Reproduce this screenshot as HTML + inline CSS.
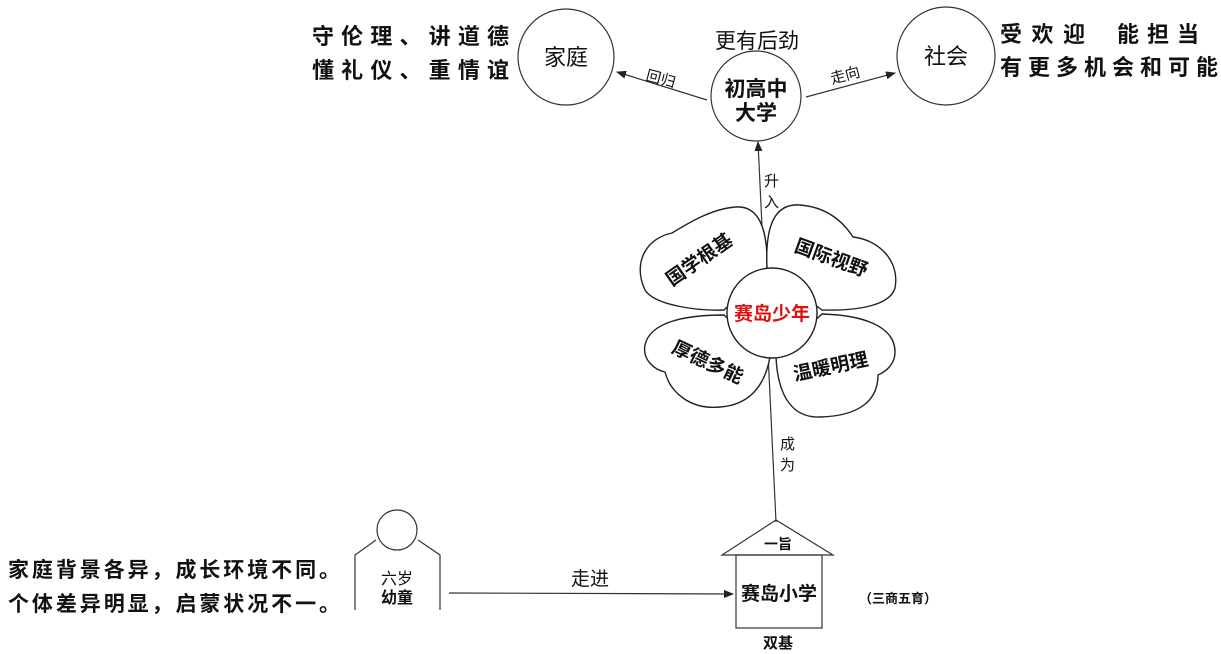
<!DOCTYPE html>
<html><head><meta charset="utf-8"><style>
html,body{margin:0;padding:0;background:#fff;width:1221px;height:654px;overflow:hidden}
svg{display:block}
text{font-family:"Liberation Sans","Noto Sans CJK SC",sans-serif;fill:#111}
.b{font-weight:bold}
</style></head><body>
<svg width="1221" height="654" viewBox="0 0 1221 654" xmlns="http://www.w3.org/2000/svg">
<defs>
<marker id="ar" markerWidth="10" markerHeight="8" refX="9" refY="4" orient="auto" markerUnits="userSpaceOnUse">
<path d="M0,0 L10,4 L0,8 Z" fill="#222"/></marker>
</defs>
<g stroke="#333" stroke-width="1.2" fill="none">
<circle cx="566" cy="57" r="48"/>
<circle cx="756" cy="96" r="45"/>
<circle cx="946" cy="56" r="49"/>
<line x1="707" y1="100" x2="617" y2="72" marker-end="url(#ar)"/>
<line x1="806" y1="97" x2="895" y2="73" marker-end="url(#ar)"/>
<line x1="776" y1="522" x2="758" y2="142" marker-end="url(#ar)"/>
<line x1="449" y1="593" x2="733" y2="594" marker-end="url(#ar)"/>
<circle cx="397" cy="530" r="20"/>
<polyline points="355,610 355,555 376,540"/>
<polyline points="440,610 440,555 418,540"/>
<polygon points="722,555 776,520 833,555"/>
<rect x="736" y="555" width="86" height="73"/>
</g>
<g fill="#fff" stroke="#222" stroke-width="1.4">
<path d="M767,268 C768,225 757,205 735,207 C712,209 690,222 672,233 C647,238 632,262 645,290 C655,306 700,311 724,310 Z"/>
<path d="M767,268 C765,225 775,203 800,205 C825,207 842,220 853,237 C880,240 900,262 895,288 C890,305 860,311 822,310 Z"/>
<path d="M724,315 C685,315 650,322 645,345 C642,360 655,370 665,372 C670,392 690,410 720,407 C750,405 765,385 770,357 Z"/>
<path d="M822,314 C860,315 895,325 895,352 C895,365 885,372 878,375 C878,400 860,416 820,417 C795,418 778,400 776,357 Z"/>
<circle cx="772" cy="313" r="45"/>
</g>
<text x="772" y="320" font-size="19" class="b" text-anchor="middle" style="fill:#d11">赛岛少年</text>
<text class="b" font-size="19" text-anchor="middle" transform="translate(703,265) rotate(-35)">国学根基</text>
<text class="b" font-size="19" text-anchor="middle" transform="translate(829,264) rotate(20)">国际视野</text>
<text class="b" font-size="19" text-anchor="middle" transform="translate(705,368) rotate(25)">厚德多能</text>
<text class="b" font-size="19" text-anchor="middle" transform="translate(832,373) rotate(-12)">温暖明理</text>

<text x="566" y="65" font-size="22" text-anchor="middle">家庭</text>
<text x="946" y="64" font-size="22" text-anchor="middle">社会</text>
<text x="756" y="96" font-size="21" text-anchor="middle" class="b">初高中</text>
<text x="756" y="120" font-size="21" text-anchor="middle" class="b">大学</text>
<text x="757" y="48" font-size="21" text-anchor="middle">更有后劲</text>
<text font-size="15" transform="translate(645,80) rotate(15)">回归</text>
<text font-size="15" transform="translate(832,84) rotate(-15)">走向</text>
<text x="764" y="186" font-size="15">升</text>
<text x="764" y="207" font-size="15">入</text>
<text x="780" y="449" font-size="15">成</text>
<text x="780" y="470" font-size="15">为</text>

<text x="312" y="44" font-size="22" class="b" textLength="197" lengthAdjust="spacing">守伦理、讲道德</text>
<text x="312" y="78" font-size="22" class="b" textLength="197" lengthAdjust="spacing">懂礼仪、重情谊</text>
<text x="1000" y="42" font-size="22" class="b" textLength="85" lengthAdjust="spacing">受欢迎</text>
<text x="1117" y="42" font-size="22" class="b" textLength="82" lengthAdjust="spacing">能担当</text>
<text x="1000" y="75" font-size="22" class="b" textLength="218" lengthAdjust="spacing">有更多机会和可能</text>
<text x="8" y="577" font-size="21" class="b" textLength="332" lengthAdjust="spacing">家庭背景各异，成长环境不同。</text>
<text x="8" y="611" font-size="21" class="b" textLength="332" lengthAdjust="spacing">个体差异明显，启蒙状况不一。</text>

<text x="397" y="584" font-size="16" text-anchor="middle">六岁</text>
<text x="397" y="603" font-size="16" text-anchor="middle" class="b">幼童</text>
<text x="590" y="585" font-size="19" text-anchor="middle">走进</text>
<text x="778" y="549" font-size="14" text-anchor="middle" class="b">一旨</text>
<text x="779" y="600" font-size="19" text-anchor="middle" class="b">赛岛小学</text>
<text x="898" y="603" font-size="13" text-anchor="middle" class="b">（三商五育）</text>
<text x="778" y="648" font-size="15" text-anchor="middle" class="b">双基</text>
</svg>
</body></html>
